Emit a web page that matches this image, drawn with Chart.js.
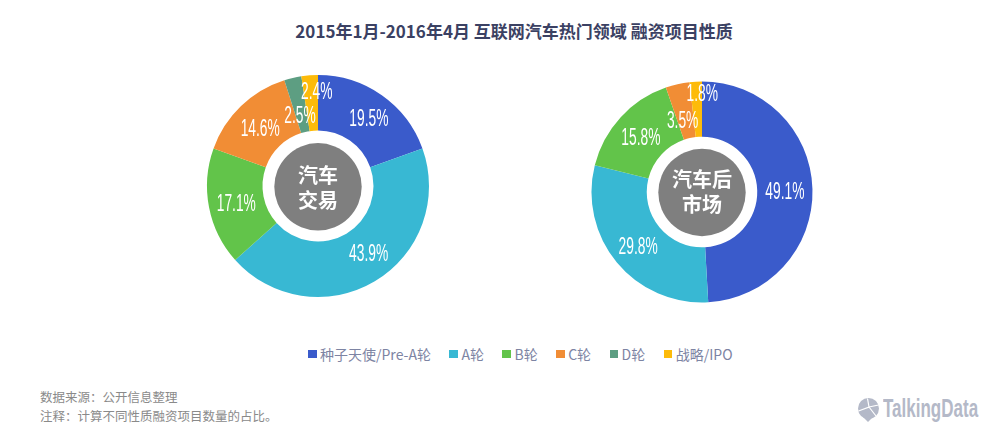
<!DOCTYPE html>
<html>
<head>
<meta charset="utf-8">
<script src="https://cdn.jsdelivr.net/npm/chart.js@4"></script>
<style>
    html, body { margin: 0; padding: 0; background: #fff; }
    body { width: 1000px; height: 436px; position: relative; overflow: hidden; font-family: "Noto Sans CJK SC", "Noto Sans", sans-serif; }
    #title { position: absolute; left: 0; width: 1028px; top: 19px; text-align: center; font-size: 17px; line-height: 24px; font-weight: 700; color: #3b4163; }
    .chart-box { position: absolute; width: 240px; height: 240px; }
    #legend { position: absolute; left: 308px; top: 344px; display: flex; font-size: 14px; line-height: 20px; color: #7d84a3; white-space: nowrap; }
    #legend .item { display: flex; align-items: center; margin-right: 18.5px; }
    #legend .swatch { width: 8.5px; height: 8.5px; margin-right: 3.5px; }
    #notes { position: absolute; left: 40px; top: 387px; font-size: 12.5px; line-height: 19px; color: #8a8a8a; }
    #logo-icon { position: absolute; left: 857px; top: 398px; }
    #logo-text { position: absolute; left: 883px; top: 396px; font-family: "Liberation Sans", sans-serif; font-weight: 700; font-size: 25px; line-height: 25px; color: #b4b9c8; transform: scaleX(0.68); transform-origin: left top; white-space: nowrap; }
</style>
</head>
<body>
<div id="title">2015年1月-2016年4月 互联网汽车热门领域 融资项目性质</div>
<div class="chart-box" style="left:197.5px;top:66px"><canvas id="tradeChart" width="240" height="240"></canvas></div>
<div class="chart-box" style="left:581.6px;top:71.5px"><canvas id="afterChart" width="240" height="240"></canvas></div>
<div id="legend"></div>
<div id="notes">数据来源：公开信息整理<br>注释：计算不同性质融资项目数量的占比。</div>
<svg id="logo-icon" width="23" height="24" viewBox="0 0 23 24">
    <circle cx="11.5" cy="10.5" r="10.5" fill="#b4b9c8"/>
    <path d="M6 19 L15 20 L11 24 Z" fill="#b4b9c8"/>
    <path d="M1.5 13 L12 9 L10.5 0.5 M12 9 L19 18 M12 9 L21.5 7" stroke="#fff" stroke-width="1.2" fill="none"/>
</svg>
<div id="logo-text">TalkingData</div>

<script>
const categories = ['种子天使/Pre-A轮', 'A轮', 'B轮', 'C轮', 'D轮', '战略/IPO'];
const colors = ['#3a5bcb', '#38b8d3', '#62c44a', '#f18d35', '#5d9e82', '#fdbb0a'];

// 汽车交易
const tradeValues = [19.5, 43.9, 17.1, 14.6, 2.5, 2.4];
const tradeCenter = ['汽车', '交易'];

// 汽车后市场 (no D轮 slice)
const afterValues = [49.1, 29.8, 15.8, 3.5, 0, 1.8];
const afterCenter = ['汽车后', '市场'];

// label nudges from the middle of each arc, in px
const tradeNudge = [[3, 2], [8, -3], [0, 3], [0, 4], [1, 12], [5, -10]];
const afterNudge = [[0, 3], [0, 3], [0, 3], [-1, 10], [0, 0], [5, -15]];

const ringLabels = {
    id: 'ringLabels',
    afterDraw(chart, args, opts) {
        const ctx = chart.ctx;
        const arcs = chart.getDatasetMeta(0).data;
        const values = chart.data.datasets[0].data;
        const cx = arcs[0].x, cy = arcs[0].y;

        ctx.save();
        ctx.textAlign = 'center';
        ctx.textBaseline = 'middle';

        // grey disc in the hole
        ctx.fillStyle = '#7f7f7f';
        ctx.beginPath();
        ctx.arc(cx, cy + opts.shift, 43.7, 0, Math.PI * 2);
        ctx.fill();

        ctx.fillStyle = '#fff';
        ctx.font = '700 20px "Noto Sans CJK SC"';
        ctx.fillText(opts.center[0], cx, cy + opts.textY - 13);
        ctx.fillText(opts.center[1], cx, cy + opts.textY + 12);

        // the percent labels are condensed, squeeze them horizontally
        ctx.font = '23px "Liberation Sans"';
        arcs.forEach((arc, i) => {
            if (!values[i]) return;
            const p = arc.getCenterPoint();
            ctx.save();
            ctx.translate(p.x + opts.nudge[i][0], p.y + opts.nudge[i][1]);
            ctx.scale(0.6, 1);
            ctx.fillText(values[i].toFixed(1) + '%', 0, 0);
            ctx.restore();
        });
        ctx.restore();
    }
};

function makeDonut(id, values, center, nudge, radius, shift, textY) {
    return new Chart(document.getElementById(id), {
        type: 'doughnut',
        data: {
            labels: categories,
            datasets: [{ data: values, backgroundColor: colors, borderWidth: 0 }]
        },
        options: {
            responsive: false,
            animation: false,
            radius: radius,
            cutout: '50%',
            layout: { padding: 0 },
            plugins: {
                legend: { display: false },
                tooltip: { enabled: false },
                ringLabels: { center: center, nudge: nudge, shift: shift, textY: textY }
            }
        },
        plugins: [ringLabels]
    });
}

makeDonut('tradeChart', tradeValues, tradeCenter, tradeNudge, 111, 0.8, 2);
makeDonut('afterChart', afterValues, afterCenter, afterNudge, 110.5, 0.5, 0);

// legend
const legendEl = document.getElementById('legend');
categories.forEach((name, i) => {
    const item = document.createElement('div');
    item.className = 'item';
    const swatch = document.createElement('div');
    swatch.className = 'swatch';
    swatch.style.background = colors[i];
    item.appendChild(swatch);
    item.appendChild(document.createTextNode(name));
    legendEl.appendChild(item);
});
</script>
</body>
</html>
